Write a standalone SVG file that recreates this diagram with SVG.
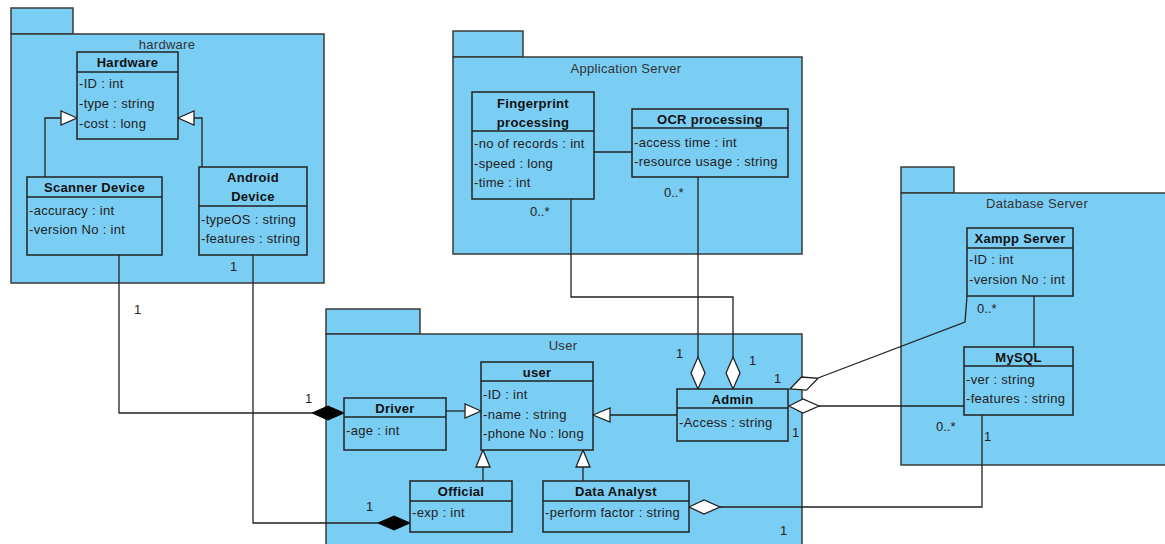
<svg xmlns="http://www.w3.org/2000/svg" width="1165" height="544" viewBox="0 0 1165 544">
<style>
.pkg{fill:#7acdf3;stroke:#3a3a3a;stroke-width:1.5}
.cls{fill:#7acdf3;stroke:#222;stroke-width:1.5}
.div{stroke:#222;stroke-width:1.5}
.pl{font-family:"Liberation Sans",Arial,sans-serif;font-size:13px;fill:#333;text-anchor:middle;letter-spacing:0.3px}
.t{font-family:"Liberation Sans",Arial,sans-serif;font-size:13px;font-weight:bold;fill:#111;text-anchor:middle;letter-spacing:0.3px}
.a{font-family:"Liberation Sans",Arial,sans-serif;font-size:13px;fill:#222;letter-spacing:0.3px}
.m{font-family:"Liberation Sans",Arial,sans-serif;font-size:13px;fill:#222}
.ln{fill:none;stroke:#222;stroke-width:1.3}
.gen{fill:#fff;stroke:#222;stroke-width:1.3}
.agg{fill:#fff;stroke:#222;stroke-width:1.3}
.cmp{fill:#000;stroke:#000;stroke-width:1}
</style>
<rect width="1165" height="544" fill="#fff"/>
<g id="pkg-hardware">
<rect class="pkg" x="11" y="8" width="62" height="26"/>
<rect class="pkg" x="11" y="34" width="313" height="249"/>
<text class="pl" x="167" y="48.5">hardware</text>
</g>
<g id="pkg-appserver">
<rect class="pkg" x="453" y="31" width="70" height="26"/>
<rect class="pkg" x="453" y="57" width="349" height="197"/>
<text class="pl" x="626" y="72.5">Application Server</text>
</g>
<g id="pkg-dbserver">
<rect class="pkg" x="901" y="167" width="53" height="26"/>
<rect class="pkg" x="901" y="193" width="270" height="272"/>
<text class="pl" x="1037" y="207.5">Database Server</text>
</g>
<g id="pkg-user">
<rect class="pkg" x="326" y="309" width="94" height="25"/>
<rect class="pkg" x="326" y="334" width="476" height="212"/>
<text class="pl" x="563" y="349.5">User</text>
</g>
<g id="connectors">
<polyline class="ln" points="45,177 45,118 61,118"/>
<polygon class="gen" points="77,118 61,111 61,125"/>
<polyline class="ln" points="202,167 202,118 194,118"/>
<polygon class="gen" points="178,118 194,111 194,125"/>
<polyline class="ln" points="119,255 119,413 312,413"/>
<polygon class="cmp" points="344,413 328,406 312,413 328,420"/>
<polyline class="ln" points="253,255 253,523 378,523"/>
<polygon class="cmp" points="410,523 394,516 378,523 394,530"/>
<line class="ln" x1="594" y1="152" x2="632" y2="152"/>
<polyline class="ln" points="571,199 571,297 733,297 733,357"/>
<polygon class="agg" points="733,389 726,373 733,357 740,373"/>
<polyline class="ln" points="698,177 698,357"/>
<polygon class="agg" points="698,389 691,373 698,357 705,373"/>
<line class="ln" x1="446" y1="411" x2="465" y2="411"/>
<polygon class="gen" points="481,411 465,404 465,418"/>
<line class="ln" x1="677" y1="415" x2="610" y2="415"/>
<polygon class="gen" points="593,415 610,408 610,422"/>
<line class="ln" x1="483" y1="481" x2="483" y2="467"/>
<polygon class="gen" points="483,450 476,467 490,467"/>
<line class="ln" x1="583" y1="481" x2="583" y2="467"/>
<polygon class="gen" points="583,450 576,467 590,467"/>
<polyline class="ln" points="967,296 965,322 818,378"/>
<polygon class="agg" points="790,389 801.5,377 818,378.3 806.5,390.1"/>
<line class="ln" x1="819" y1="406" x2="964" y2="406"/>
<polygon class="agg" points="789,406 803,399 819,406 803,413"/>
<line class="ln" x1="1034" y1="296" x2="1034" y2="347"/>
<polyline class="ln" points="982,415 982,507 720,507"/>
<polygon class="agg" points="689,507 704,500 720,507 704,514"/>
<text class="m" x="230" y="271">1</text>
<text class="m" x="134" y="314">1</text>
<text class="m" x="305" y="403">1</text>
<text class="m" x="366" y="511">1</text>
<text class="m" x="530" y="216">0..*</text>
<text class="m" x="664" y="197">0..*</text>
<text class="m" x="676" y="358">1</text>
<text class="m" x="749" y="365">1</text>
<text class="m" x="774" y="383">1</text>
<text class="m" x="792" y="437">1</text>
<text class="m" x="780" y="535">1</text>
<text class="m" x="977" y="313">0..*</text>
<text class="m" x="936" y="431">0..*</text>
<text class="m" x="984" y="441">1</text>
</g>
<g id="cls-hardware">
<rect class="cls" x="77" y="52" width="101" height="87"/>
<line class="div" x1="77" y1="72" x2="178" y2="72"/>
<text class="t" x="127.5" y="66.5">Hardware</text>
<text class="a" x="79" y="87.5">-ID : int</text>
<text class="a" x="79" y="107.5">-type : string</text>
<text class="a" x="79" y="127.5">-cost : long</text>
</g>
<g id="cls-scanner">
<rect class="cls" x="27" y="177" width="135" height="78"/>
<line class="div" x1="27" y1="197" x2="162" y2="197"/>
<text class="t" x="94.5" y="191.5">Scanner Device</text>
<text class="a" x="29" y="214.5">-accuracy : int</text>
<text class="a" x="29" y="233.5">-version No : int</text>
</g>
<g id="cls-android">
<rect class="cls" x="199" y="167" width="108" height="88"/>
<line class="div" x1="199" y1="206" x2="307" y2="206"/>
<text class="t" x="253" y="181.5">Android</text>
<text class="t" x="253" y="200.5">Device</text>
<text class="a" x="201" y="223.5">-typeOS : string</text>
<text class="a" x="201" y="242.5">-features : string</text>
</g>
<g id="cls-fingerprint">
<rect class="cls" x="472" y="92" width="122" height="107"/>
<line class="div" x1="472" y1="131" x2="594" y2="131"/>
<text class="t" x="533" y="107.5">Fingerprint</text>
<text class="t" x="533" y="126.5">processing</text>
<text class="a" x="474" y="147.5">-no of records : int</text>
<text class="a" x="474" y="167.5">-speed : long</text>
<text class="a" x="474" y="186.5">-time : int</text>
</g>
<g id="cls-ocr">
<rect class="cls" x="632" y="109" width="156" height="68"/>
<line class="div" x1="632" y1="128" x2="788" y2="128"/>
<text class="t" x="710" y="123.5">OCR processing</text>
<text class="a" x="634" y="146.5">-access time : int</text>
<text class="a" x="634" y="165.5">-resource usage : string</text>
</g>
<g id="cls-xampp">
<rect class="cls" x="967" y="228" width="106" height="68"/>
<line class="div" x1="967" y1="248" x2="1073" y2="248"/>
<text class="t" x="1020" y="242.5">Xampp Server</text>
<text class="a" x="969" y="263.5">-ID : int</text>
<text class="a" x="969" y="283.5">-version No : int</text>
</g>
<g id="cls-mysql">
<rect class="cls" x="964" y="347" width="109" height="68"/>
<line class="div" x1="964" y1="366" x2="1073" y2="366"/>
<text class="t" x="1018.5" y="361.5">MySQL</text>
<text class="a" x="966" y="383.5">-ver : string</text>
<text class="a" x="966" y="402.5">-features : string</text>
</g>
<g id="cls-user">
<rect class="cls" x="481" y="362" width="112" height="88"/>
<line class="div" x1="481" y1="381" x2="593" y2="381"/>
<text class="t" x="537" y="376.5">user</text>
<text class="a" x="483" y="398.5">-ID : int</text>
<text class="a" x="483" y="418.5">-name : string</text>
<text class="a" x="483" y="437.5">-phone No : long</text>
</g>
<g id="cls-driver">
<rect class="cls" x="344" y="398" width="102" height="52"/>
<line class="div" x1="344" y1="417" x2="446" y2="417"/>
<text class="t" x="395" y="412.5">Driver</text>
<text class="a" x="346" y="434.5">-age : int</text>
</g>
<g id="cls-admin">
<rect class="cls" x="677" y="389" width="111" height="52"/>
<line class="div" x1="677" y1="408" x2="788" y2="408"/>
<text class="t" x="732.5" y="403.5">Admin</text>
<text class="a" x="679" y="426.5">-Access : string</text>
</g>
<g id="cls-official">
<rect class="cls" x="410" y="481" width="102" height="51"/>
<line class="div" x1="410" y1="501" x2="512" y2="501"/>
<text class="t" x="461" y="495.5">Official</text>
<text class="a" x="412" y="516.5">-exp : int</text>
</g>
<g id="cls-analyst">
<rect class="cls" x="543" y="481" width="146" height="51"/>
<line class="div" x1="543" y1="501" x2="689" y2="501"/>
<text class="t" x="616" y="495.5">Data Analyst</text>
<text class="a" x="545" y="516.5">-perform factor : string</text>
</g>
</svg>
